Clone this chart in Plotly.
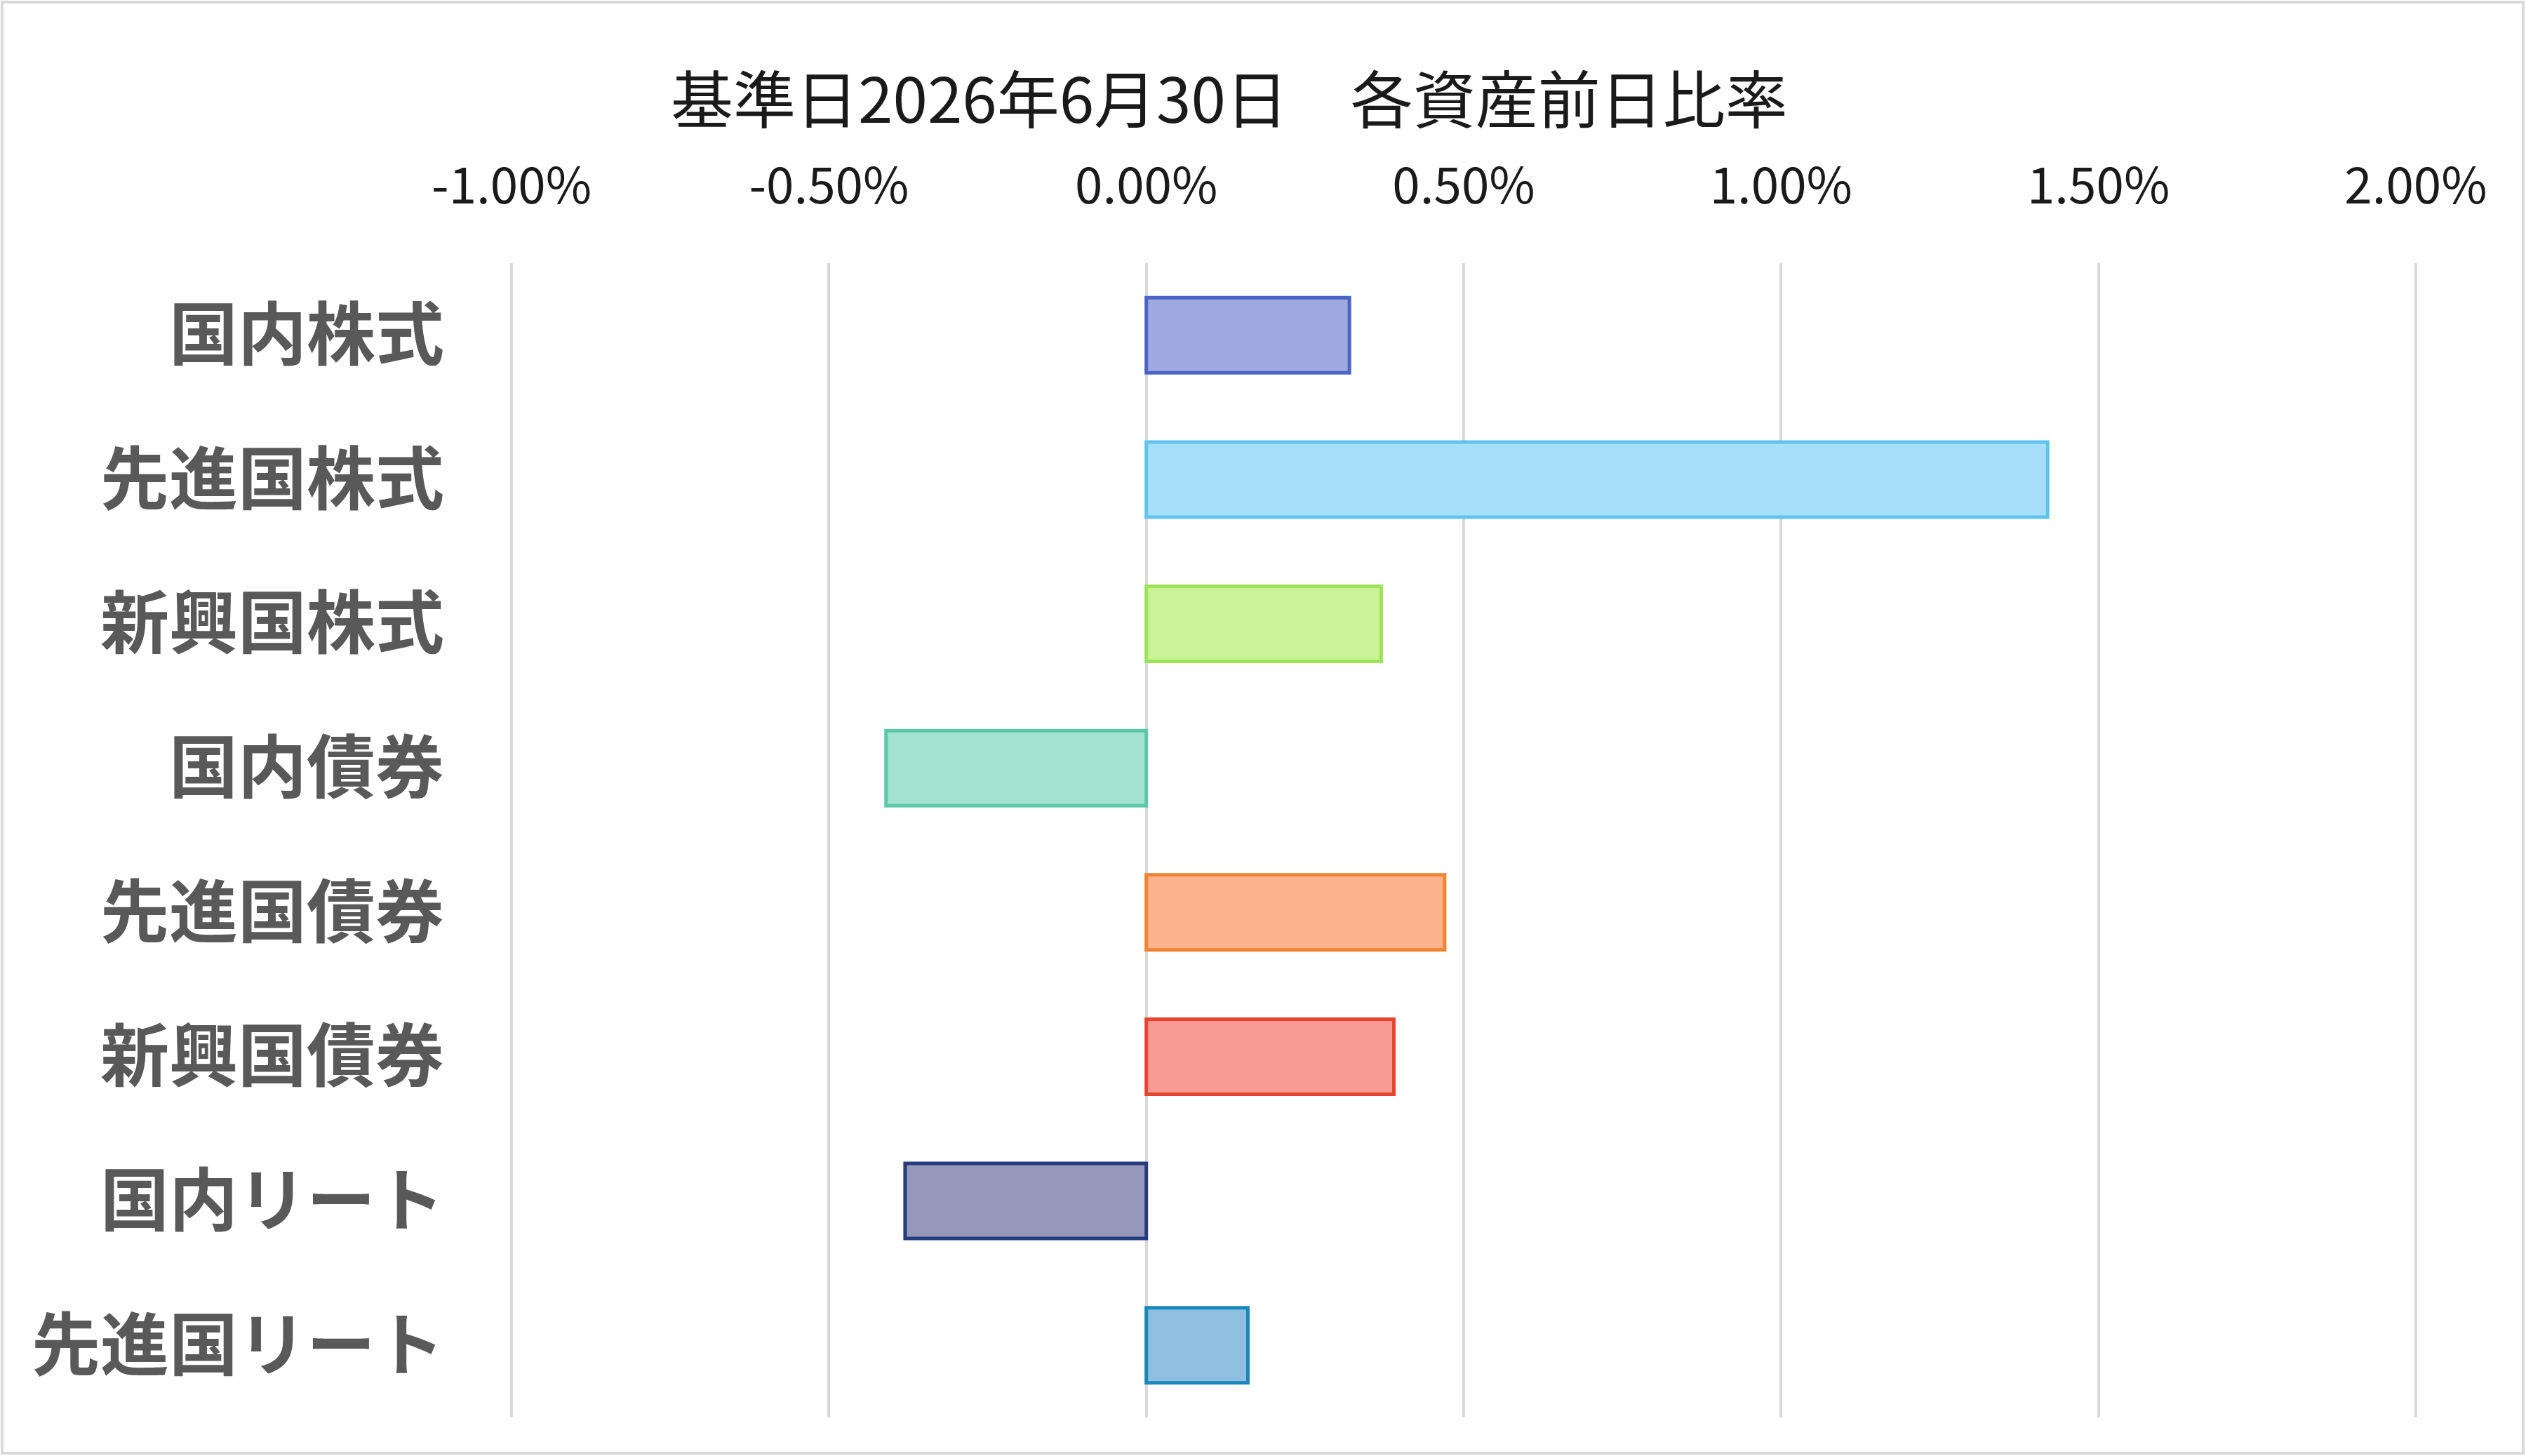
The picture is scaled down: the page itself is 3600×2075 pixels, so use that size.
import plotly.graph_objects as go

categories = ["国内株式", "先進国株式", "新興国株式", "国内債券",
              "先進国債券", "新興国債券", "国内リート", "先進国リート"]
values = [0.0032, 0.0142, 0.0037, -0.0041, 0.0047, 0.0039, -0.0038, 0.0016]
fill_colors = ["#9fa9df", "#a8dff8", "#caf296", "#a3e2cf",
               "#fdb38e", "#f89a92", "#9698b9", "#8fbfe0"]
line_colors = ["#4a63c4", "#5fc3ea", "#9de35a", "#5bc8a6",
               "#f38330", "#e4452c", "#263a7e", "#1888b8"]
tick_vals = [-0.01, -0.005, 0.0, 0.005, 0.01, 0.015, 0.02]
tick_text = ["-1.00%", "-0.50%", "0.00%", "0.50%", "1.00%", "1.50%", "2.00%"]
title_text = "基準日2026年6月30日　各資産前日比率"

W, H = 3600, 2075
ml, mr, mt, mb = 720, 148, 375, 55

fig = go.Figure()
fig.add_trace(go.Bar(
    x=values, y=categories, orientation="h",
    marker=dict(color=fill_colors, line=dict(color=line_colors, width=5)),
    showlegend=False,
))

pw = W - ml - mr
ph = H - mt - mb
fig.add_shape(type="rect", xref="paper", yref="paper",
              x0=(3 - ml) / pw, x1=(W - 4 - ml) / pw,
              y0=-(mb - 4) / ph,
              y1=1 + (mt - 3) / ph,
              line=dict(color="#d9d9d9", width=4), layer="below")

fig.update_layout(
    width=W, height=H,
    margin=dict(l=ml, r=mr, t=mt, b=mb, pad=0),
    paper_bgcolor="white", plot_bgcolor="white",
    bargap=0.48,
    title=dict(text=title_text, x=1752 / W, xref="container", xanchor="center",
               y=1 - 144 / H, yref="container", yanchor="middle",
               font=dict(family="Noto Sans CJK JP", size=89, color="#1a1a1a")),
    xaxis=dict(side="top", range=[-0.0101, 0.0201], tickvals=tick_vals, ticktext=tick_text,
               showgrid=True, gridcolor="#d9d9d9", gridwidth=4,
               zeroline=True, zerolinecolor="#d9d9d9", zerolinewidth=4,
               showline=False, ticks="", ticklabelstandoff=70,
               tickfont=dict(family="Noto Sans CJK JP", size=71, color="#1a1a1a")),
    yaxis=dict(autorange="reversed", showgrid=False, zeroline=False, showline=False,
               ticks="", ticklabelstandoff=86,
               tickfont=dict(family="Noto Sans CJK JP", size=98, color="#595959",
                             weight="bold")),
)

fig.write_html("out.html")
